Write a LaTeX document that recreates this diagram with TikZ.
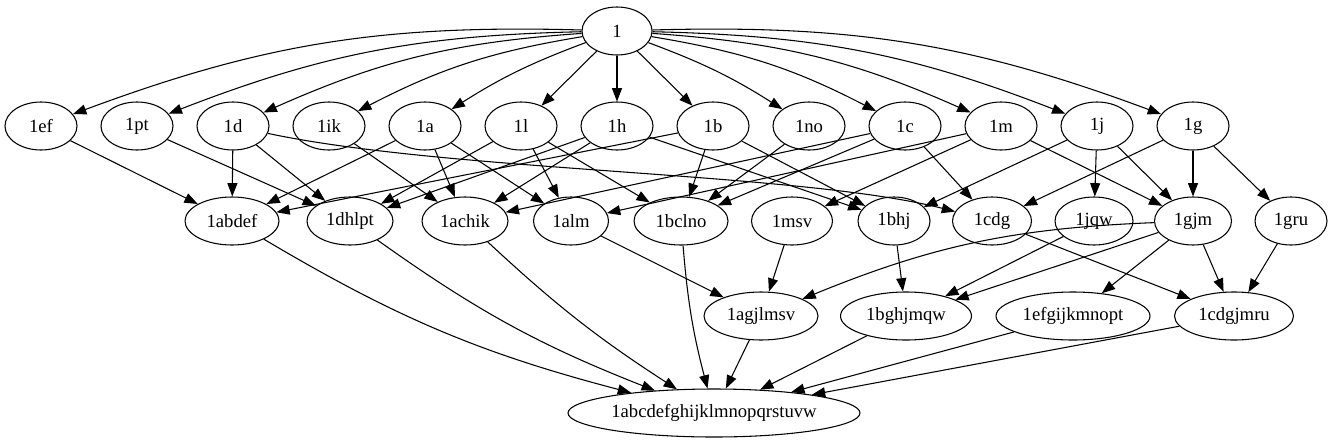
\documentclass[tikz,border=0pt]{standalone}
\usepackage{fontspec}
\setmainfont{Liberation Serif}
\usetikzlibrary{arrows.meta, positioning, shapes.geometric}

\begin{document}
\begin{tikzpicture}[
      x=0.75pt, y=0.75pt, line width=0.8pt,
      >={Triangle[length=10pt,width=7.5pt]},
      node distance=72pt, on grid,
      every node/.style={draw, ellipse, inner sep=0pt, minimum width=54pt,
        minimum height=36pt, font=\fontsize{14}{16}\selectfont},
      wd/.style={minimum width=#1*0.75pt},
      ]
      \useasboundingbox (0,0) rectangle (1333,-443);

      \node (v) at (617,-31) [wd=70] {1};

      % first layer
      \node (v_ef) at (41,-126)   {1ef};
      \node (v_pt) [right=of v_ef] {1pt};
      \node (v_d)  [right=of v_pt] {1d};
      \node (v_ik) [right=of v_d]  {1ik};
      \node (v_a)  [right=of v_ik] {1a};
      \node (v_l)  [right=of v_a]  {1l};
      \node (v_h)  [right=of v_l]  {1h};
      \node (v_b)  [right=of v_h]  {1b};
      \node (v_no) [right=of v_b]  {1no};
      \node (v_c)  [right=of v_no] {1c};
      \node (v_m)  [right=of v_c]  {1m};
      \node (v_j)  [right=of v_m]  {1j};
      \node (v_g)  [right=of v_j]  {1g};

      % second layer
      \node (v_abdef) at (232,-221)  [wd=94] {1abdef};
      \node (v_dhlpt) at (350,-221)  [wd=86] {1dhlpt};
      \node (v_achik) at (465,-221)  [wd=86] {1achik};
      \node (v_alm)   at (571,-221)  [wd=75] {1alm};
      \node (v_bclno) at (681,-221)  [wd=94] {1bclno};
      \node (v_msv)   at (792,-221)  [wd=81] {1msv};
      \node (v_bhj)   at (894,-221)  [wd=72] {1bhj};
      \node (v_cdg)   at (992,-221)  [wd=79] {1cdg};
      \node (v_jqw)   at (1094,-221) [wd=78] {1jqw};
      \node (v_gjm)   at (1193,-221) [wd=77] {1gjm};
      \node (v_gru)   at (1291,-221) [wd=72] {1gru};

      % third layer
      \node (v_agjlmsv)     at (761,-316)  [wd=114] {1agjlmsv};
      \node (v_bghjmqw)     at (906,-316)  [wd=131] {1bghjmqw};
      \node (v_efgijkmnopt) at (1073,-316) [wd=154] {1efgijkmnopt};
      \node (v_cdgjmru)     at (1234,-316) [wd=119] {1cdgjmru};

      \node (v_all) at (714,-413) [wd=292] {1abcdefghijklmnopqrstuvw};

      \path[->]
        (v) edge[bend right=11] (v_ef)
        (v) edge[bend right=10] (v_pt)
        (v) edge[bend right=10] (v_d)
        (v) edge[bend right=9]  (v_ik)
        (v) edge[bend right=6]  (v_a)
        (v) edge (v_l)
        (v) edge (v_h)
        (v) edge (v_b)
        (v) edge[bend left=6]  (v_no)
        (v) edge[bend left=9]  (v_c)
        (v) edge[bend left=10] (v_m)
        (v) edge[bend left=10] (v_j)
        (v) edge[bend left=11] (v_g);

      \path[->]
        (v_ef) edge (v_abdef)
        (v_pt) edge (v_dhlpt)
        (v_d)  edge (v_abdef)
        (v_d)  edge (v_dhlpt)
        (v_ik) edge (v_achik)
        (v_a)  edge (v_abdef)
        (v_a)  edge (v_achik)
        (v_a)  edge (v_alm)
        (v_l)  edge (v_dhlpt)
        (v_l)  edge (v_alm)
        (v_l)  edge (v_bclno)
        (v_h)  edge (v_dhlpt)
        (v_h)  edge (v_achik)
        (v_h)  edge (v_bhj)
        (v_b)  edge (v_abdef)
        (v_b)  edge (v_bclno)
        (v_b)  edge (v_bhj)
        (v_no) edge (v_bclno)
        (v_c)  edge (v_achik)
        (v_c)  edge (v_bclno)
        (v_c)  edge (v_cdg)
        (v_m)  edge (v_alm)
        (v_m)  edge (v_msv)
        (v_m)  edge (v_gjm)
        (v_j)  edge (v_bhj)
        (v_j)  edge (v_jqw)
        (v_j)  edge (v_gjm)
        (v_g)  edge (v_cdg)
        (v_g)  edge (v_gjm)
        (v_g)  edge (v_gru);
      \draw[->] (v_d) .. controls (450,-172) and (800,-172) .. (v_cdg);

      \path[->]
        (v_alm) edge (v_agjlmsv)
        (v_msv) edge (v_agjlmsv)
        (v_gjm) edge[bend right=10] (v_agjlmsv)
        (v_bhj) edge (v_bghjmqw)
        (v_jqw) edge (v_bghjmqw)
        (v_gjm) edge (v_bghjmqw)
        (v_gjm) edge (v_efgijkmnopt)
        (v_gjm) edge (v_cdgjmru)
        (v_cdg) edge (v_cdgjmru)
        (v_gru) edge (v_cdgjmru);

      \path[->]
        (v_abdef)       edge[bend right=8] (v_all)
        (v_dhlpt)       edge[bend right=7] (v_all)
        (v_achik)       edge[bend right=5] (v_all)
        (v_bclno)       edge[bend right=5] (v_all)
        (v_agjlmsv)     edge (v_all)
        (v_bghjmqw)     edge (v_all)
        (v_efgijkmnopt) edge (v_all)
        (v_cdgjmru)     edge (v_all);
\end{tikzpicture}
\end{document}
